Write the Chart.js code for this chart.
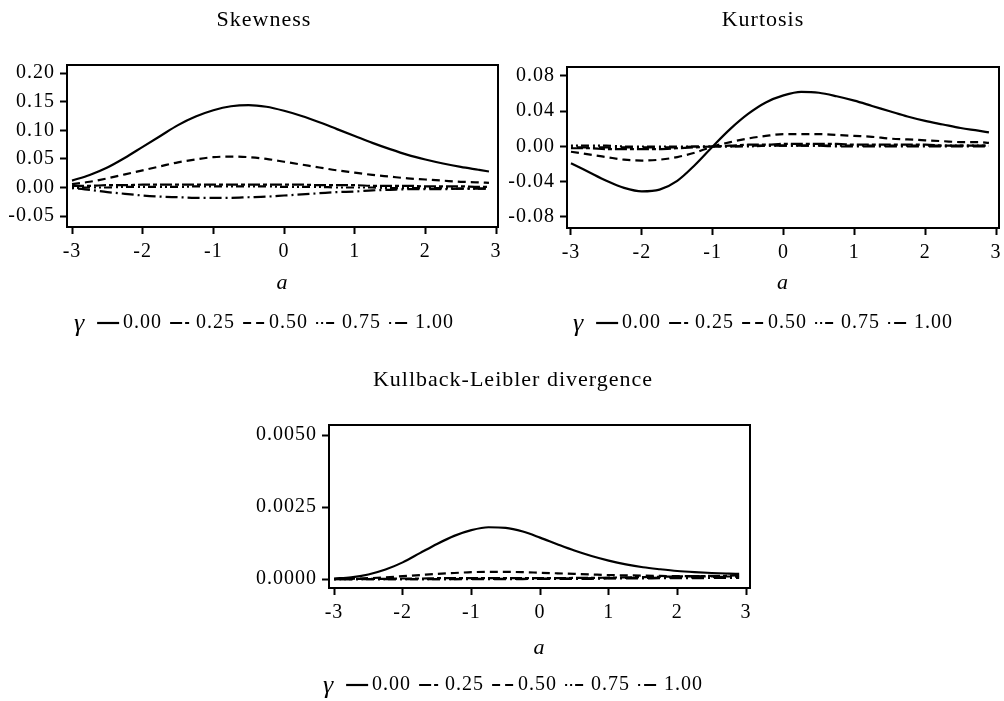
<!DOCTYPE html>
<html>
<head>
<meta charset="utf-8">
<script src="https://cdn.jsdelivr.net/npm/chart.js@4.4.1/dist/chart.umd.min.js"></script>
<style>
  body { margin: 0; background: #fff; width: 1004px; height: 701px; position: relative; overflow: hidden; }
  .panel { position: absolute; }
</style>
</head>
<body>
<div class="panel" style="left:0;top:0;width:500px;height:345px"><canvas id="chart-skew"></canvas></div>
<div class="panel" style="left:500px;top:0;width:504px;height:345px"><canvas id="chart-kurt"></canvas></div>
<div class="panel" style="left:240px;top:360px;width:520px;height:341px"><canvas id="chart-kl"></canvas></div>
<script>
// values of a along the x axis
const aValues = [-3, -2.75, -2.5, -2.25, -2, -1.75, -1.5, -1.25, -1, -0.75, -0.5, -0.25, 0,
  0.25, 0.5, 0.75, 1, 1.25, 1.5, 1.75, 2, 2.25, 2.5, 2.75, 2.9];
const xTicks = [-3, -2, -1, 0, 1, 2, 3];
const gammaLabels = ["0.00", "0.25", "0.50", "0.75", "1.00"];

// Skewness
const skewTicks = [-0.05, 0, 0.05, 0.1, 0.15, 0.2];
const skew000 = [0.012, 0.022, 0.035, 0.052, 0.071, 0.090, 0.109, 0.124, 0.135, 0.142, 0.144, 0.141, 0.134,
  0.125, 0.114, 0.102, 0.090, 0.078, 0.067, 0.057, 0.049, 0.042, 0.036, 0.031, 0.028];
const skew025 = [0.003, 0.003, 0.004, 0.004, 0.005, 0.005, 0.005, 0.005, 0.005, 0.005, 0.005, 0.005, 0.005,
  0.005, 0.004, 0.004, 0.004, 0.003, 0.003, 0.003, 0.002, 0.002, 0.002, 0.001, 0.001];
const skew050 = [0.006, 0.010, 0.016, 0.023, 0.030, 0.037, 0.044, 0.049, 0.053, 0.054, 0.053, 0.050, 0.045,
  0.040, 0.035, 0.030, 0.026, 0.022, 0.019, 0.016, 0.014, 0.012, 0.010, 0.009, 0.008];
const skew075 = [-0.001, 0.000, 0.000, 0.001, 0.001, 0.001, 0.001, 0.002, 0.002, 0.002, 0.002, 0.002, 0.001,
  0.001, 0.001, 0.000, 0.000, 0.000, -0.001, -0.001, -0.001, -0.001, -0.002, -0.002, -0.002];
const skew100 = [-0.001, -0.004, -0.008, -0.011, -0.014, -0.016, -0.017, -0.018, -0.018, -0.018, -0.017, -0.016, -0.014,
  -0.012, -0.010, -0.008, -0.007, -0.005, -0.004, -0.003, -0.003, -0.003, -0.002, -0.002, -0.002];

// Kurtosis
const kurtTicks = [-0.08, -0.04, 0, 0.04, 0.08];
const kurt000 = [-0.019, -0.029, -0.039, -0.047, -0.051, -0.049, -0.039, -0.021, 0.000, 0.020, 0.037, 0.050, 0.058,
  0.062, 0.061, 0.057, 0.052, 0.046, 0.040, 0.034, 0.029, 0.025, 0.021, 0.018, 0.016];
const kurt025 = [-0.002, -0.002, -0.003, -0.003, -0.003, -0.003, -0.002, -0.001, 0.000, 0.001, 0.002, 0.002, 0.003,
  0.003, 0.003, 0.003, 0.002, 0.002, 0.002, 0.002, 0.002, 0.001, 0.001, 0.001, 0.001];
const kurt050 = [-0.006, -0.009, -0.012, -0.015, -0.016, -0.015, -0.012, -0.007, 0.000, 0.005, 0.009, 0.012, 0.014,
  0.014, 0.014, 0.013, 0.012, 0.011, 0.009, 0.008, 0.007, 0.006, 0.005, 0.005, 0.004];
const kurt075 = [0.001, 0.001, 0.001, 0.000, 0.000, 0.000, 0.000, 0.000, 0.000, 0.000, 0.000, 0.001, 0.001,
  0.001, 0.001, 0.001, 0.001, 0.001, 0.001, 0.001, 0.001, 0.001, 0.001, 0.001, 0.001];
const kurt100 = [-0.001, -0.001, -0.001, -0.001, -0.001, -0.001, -0.001, 0.000, 0.000, 0.000, 0.001, 0.001, 0.001,
  0.001, 0.001, 0.000, 0.000, 0.000, 0.000, 0.000, 0.000, 0.000, 0.000, 0.000, 0.000];

// Kullback-Leibler divergence
const klTicks = [0, 0.0025, 0.005];
const kl000 = [0.00002, 0.00006, 0.00016, 0.00033, 0.00058, 0.00090, 0.00122, 0.00150, 0.00170, 0.00180, 0.00178, 0.00165, 0.00144,
  0.00121, 0.00099, 0.00080, 0.00064, 0.00051, 0.00041, 0.00034, 0.00028, 0.00024, 0.00021, 0.00019, 0.00018];
const kl025 = [0, 0, 0.00001, 0.00001, 0.00002, 0.00002, 0.00003, 0.00003, 0.00003, 0.00003, 0.00003, 0.00003, 0.00003,
  0.00003, 0.00004, 0.00004, 0.00005, 0.00006, 0.00007, 0.00008, 0.00009, 0.00010, 0.00011, 0.00012, 0.00013];
const kl050 = [0, 0.00001, 0.00003, 0.00006, 0.00010, 0.00014, 0.00018, 0.00021, 0.00024, 0.00025, 0.00025, 0.00024, 0.00022,
  0.00020, 0.00018, 0.00016, 0.00014, 0.00013, 0.00012, 0.00011, 0.00010, 0.00010, 0.00009, 0.00009, 0.00009];
const kl075 = [0, 0, 0, 0, 0, 0, 0, 0, 0.00001, 0.00001, 0.00001, 0.00001, 0.00001,
  0.00002, 0.00002, 0.00003, 0.00003, 0.00004, 0.00004, 0.00005, 0.00006, 0.00006, 0.00007, 0.00008, 0.00008];
const kl100 = [0, 0, 0, 0, 0, 0, 0, 0, 0, 0, 0, 0, 0.00001,
  0.00001, 0.00001, 0.00001, 0.00002, 0.00002, 0.00002, 0.00003, 0.00003, 0.00003, 0.00004, 0.00004, 0.00004];

const dashPatterns = [[], [12, 3, 4, 3], [8, 5], [2, 3, 2, 3, 8, 4], [2, 4, 12, 4]];
const SERIF = '"Liberation Serif", "Times New Roman", serif';
const SPACING = "1px";

function makeDatasets(seriesList) {
  return seriesList.map((ys, i) => ({
    label: gammaLabels[i],
    data: aValues.map((a, j) => ({ x: a, y: ys[j] })),
    borderColor: "#000",
    borderWidth: 2.2,
    borderDash: dashPatterns[i],
    pointRadius: 0,
    cubicInterpolationMode: "monotone",
    fill: false,
  }));
}

const decorPlugin = {
  id: "decor",
  beforeLayout(chart) { chart.ctx.letterSpacing = SPACING; },
  beforeDraw(chart) { chart.ctx.letterSpacing = SPACING; },
  afterDraw(chart, args, opts) {
    const ctx = chart.ctx;
    const area = chart.chartArea;
    ctx.save();
    ctx.letterSpacing = SPACING;
    ctx.strokeStyle = "#000";
    ctx.lineWidth = 2;
    ctx.setLineDash([]);
    ctx.strokeRect(area.left, area.top, area.right - area.left, area.bottom - area.top);

    ctx.fillStyle = "#000";
    ctx.textAlign = "center";
    ctx.textBaseline = "middle";
    ctx.font = "22px " + SERIF;
    ctx.fillText(opts.title, opts.centerX, opts.titleY);
    ctx.font = "italic 22px " + SERIF;
    ctx.fillText("a", (area.left + area.right) / 2, opts.axisY);

    // legend: gamma symbol, then line sample + label for each series
    const sampleLen = 22;
    ctx.font = "20px " + SERIF;
    const labelW = gammaLabels.map((t) => ctx.measureText(t).width);
    ctx.font = "italic 26px " + SERIF;
    const gammaW = ctx.measureText("γ").width;
    let total = gammaW + 12;
    labelW.forEach((w) => { total += sampleLen + 4 + w + 8; });
    total -= 8;
    let x = opts.centerX - total / 2;
    ctx.textAlign = "left";
    ctx.fillText("γ", x, opts.legendY + 1);
    x += gammaW + 12;
    chart.data.datasets.forEach((ds, i) => {
      ctx.beginPath();
      ctx.setLineDash(ds.borderDash);
      ctx.lineWidth = 2.2;
      ctx.moveTo(x, opts.legendY);
      ctx.lineTo(x + sampleLen, opts.legendY);
      ctx.stroke();
      x += sampleLen + 4;
      ctx.setLineDash([]);
      ctx.font = "20px " + SERIF;
      ctx.fillText(ds.label, x, opts.legendY);
      x += labelW[i] + 8;
    });
    ctx.restore();
  },
};

function buildChart(id, seriesList, yTicks, yMin, yMax, xMin, xMax, digits, box, decor) {
  const canvas = document.getElementById(id);
  return new Chart(canvas.getContext("2d"), {
    type: "line",
    data: { datasets: makeDatasets(seriesList) },
    plugins: [decorPlugin],
    options: {
      responsive: true,
      maintainAspectRatio: false,
      animation: false,
      events: [],
      layout: { padding: { left: 0, top: box.top, right: box.right, bottom: 0 } },
      plugins: { legend: { display: false }, tooltip: { enabled: false }, decor: decor },
      scales: {
        x: {
          type: "linear",
          min: xMin,
          max: xMax,
          afterBuildTicks: (s) => { s.ticks = xTicks.map((v) => ({ value: v })); },
          afterFit: (s) => {
            s.height = box.xHeight;
            s.paddingLeft = 0;
            s.paddingRight = 0;
          },
          border: { display: false },
          grid: { display: true, drawOnChartArea: false, drawTicks: true, tickLength: 7, tickWidth: 2, color: "#000" },
          ticks: {
            color: "#000", font: { family: SERIF, size: 20 }, padding: 6,
            maxRotation: 0, autoSkip: false, callback: (v) => String(v),
          },
        },
        y: {
          min: yMin,
          max: yMax,
          afterBuildTicks: (s) => { s.ticks = yTicks.map((v) => ({ value: v })); },
          afterFit: (s) => {
            s.width = box.yWidth;
            s.paddingTop = 0;
            s.paddingBottom = 0;
          },
          border: { display: false },
          grid: { display: true, drawOnChartArea: false, drawTicks: true, tickLength: 7, tickWidth: 2, color: "#000" },
          ticks: {
            color: "#000", font: { family: SERIF, size: 20 }, padding: 5,
            autoSkip: false, callback: (v) => Number(v).toFixed(digits),
          },
        },
      },
    },
  });
}

buildChart("chart-skew", [skew000, skew025, skew050, skew075, skew100], skewTicks,
  -0.069, 0.214, -3.071, 3.028, 2,
  { top: 65, right: 2, xHeight: 118, yWidth: 67 },
  { title: "Skewness", centerX: 264, titleY: 20, axisY: 283, legendY: 323 });

buildChart("chart-kurt", [kurt000, kurt025, kurt050, kurt075, kurt100], kurtTicks,
  -0.0925, 0.0902, -3.056, 3.042, 2,
  { top: 67, right: 5, xHeight: 117, yWidth: 67 },
  { title: "Kurtosis", centerX: 263, titleY: 20, axisY: 283, legendY: 323 });

buildChart("chart-kl", [kl000, kl025, kl050, kl075, kl100], klTicks,
  -0.00031, 0.00535, -3.073, 3.058, 4,
  { top: 65, right: 10, xHeight: 113, yWidth: 89 },
  { title: "Kullback-Leibler divergence", centerX: 273, titleY: 20, axisY: 288, legendY: 325 });
</script>
</body>
</html>
